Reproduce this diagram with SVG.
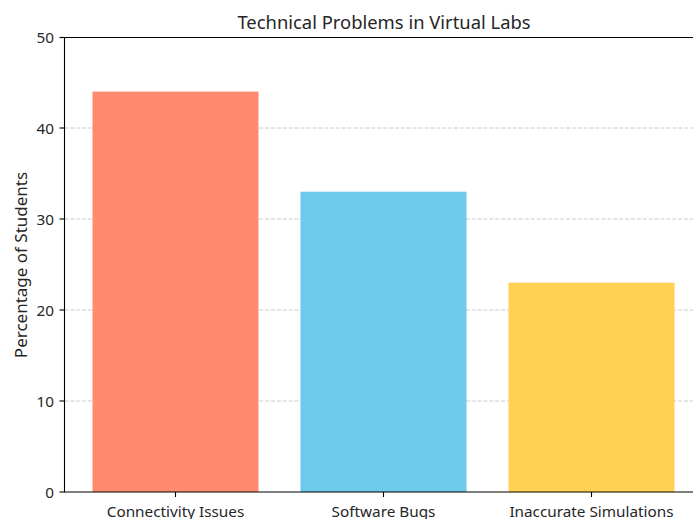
<svg xmlns="http://www.w3.org/2000/svg" width="693" height="519" viewBox="0 0 693 519">
<style>
text{font-family:"Noto Sans","Open Sans",sans-serif;fill:#262626}
.tick{font-size:15.3px}
.ylab{font-size:17px}
.grid{stroke:#cccccc;stroke-width:1;stroke-dasharray:4.1,1.8}
.spine{stroke:#000;stroke-width:1.1;fill:none}
.tm{stroke:#000;stroke-width:1.1}
</style>
<rect width="693" height="519" fill="#fff"/>
<g id="grid">
<line class="grid" x1="64.5" y1="401" x2="693" y2="401"/>
<line class="grid" x1="64.5" y1="310" x2="693" y2="310"/>
<line class="grid" x1="64.5" y1="219" x2="693" y2="219"/>
<line class="grid" x1="64.5" y1="128" x2="693" y2="128"/>
</g>
<g id="bars">
<rect id="bar-connectivity" x="92.5" y="91.6" width="166" height="400.4" fill="#FF8A70"/>
<rect id="bar-software" x="300.5" y="191.7" width="166" height="300.3" fill="#6ECAEB"/>
<rect id="bar-inaccurate" x="508.5" y="282.7" width="166" height="209.3" fill="#FFD152"/>
</g>
<g id="axes">
<path class="spine" d="M64.5,37.5 V492 H693 M64.5,37.5 H693"/>
<line class="tm" x1="59.5" y1="492" x2="64.5" y2="492"/>
<line class="tm" x1="59.5" y1="401" x2="64.5" y2="401"/>
<line class="tm" x1="59.5" y1="310" x2="64.5" y2="310"/>
<line class="tm" x1="59.5" y1="219" x2="64.5" y2="219"/>
<line class="tm" x1="59.5" y1="128" x2="64.5" y2="128"/>
<line class="tm" x1="59.5" y1="37.5" x2="64.5" y2="37.5"/>
<line class="tm" x1="175.5" y1="492" x2="175.5" y2="497"/>
<line class="tm" x1="383.5" y1="492" x2="383.5" y2="497"/>
<line class="tm" x1="591.5" y1="492" x2="591.5" y2="497"/>
<g class="tick" text-anchor="end">
<text x="54" y="497.5">0</text>
<text x="54" y="406.5">10</text>
<text x="54" y="315.5">20</text>
<text x="54" y="224.5">30</text>
<text x="54" y="133.5">40</text>
<text x="54" y="43">50</text>
</g>
<g class="tick" text-anchor="middle">
<text x="175.5" y="516.5">Connectivity Issues</text>
<text x="383.5" y="516.5">Software Bugs</text>
<text x="591.5" y="516.5">Inaccurate Simulations</text>
</g>
<text class="ylab" text-anchor="middle" transform="translate(27,265) rotate(-90)">Percentage of Students</text>
<text text-anchor="middle" x="384" y="29" font-size="18.4">Technical Problems in Virtual Labs</text>
</g>
</svg>
